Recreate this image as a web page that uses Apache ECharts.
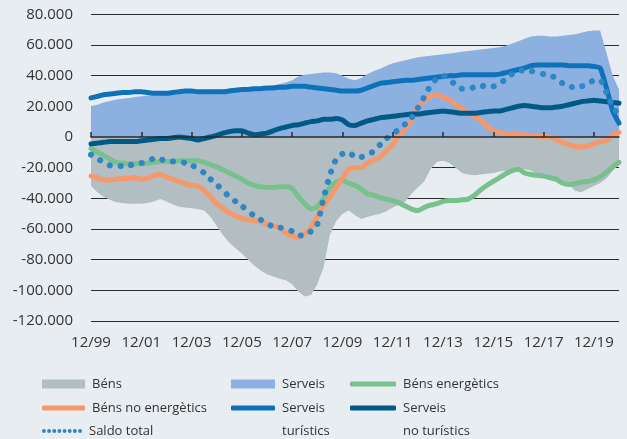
<!DOCTYPE html>
<html>
<head>
<meta charset="utf-8">
<script src="https://cdn.jsdelivr.net/npm/echarts@6/dist/echarts.min.js"></script>
<style>
html,body{margin:0;padding:0;background:#e8edf2;}
#c{width:627px;height:439px;}
</style>
</head>
<body>
<div id="c"></div>
<script>
// Quarterly categories 12/99 ... 12/20
const categories = [];
for (let i = 0; i <= 84; i++) {
  const m = (11 + 3 * i) % 12 + 1;
  const y = 1999 + Math.floor((11 + 3 * i) / 12);
  categories.push(String(m).padStart(2, '0') + '/' + String(y % 100).padStart(2, '0'));
}
const yTicks = [-120, -100, -80, -60, -40, -20, 0, 20, 40, 60, 80];

// values in thousands
const bens = [
  -32,-36,-39,-41,-42.5,-43,-43.5,-43.5,-43.5,-43,
  -42,-40.5,-42,-44,-45.5,-46,-46.5,-47,-48,-52,
  -58,-64,-69,-72.5,-76,-80,-84,-87,-89.5,-91,
  -92.5,-93.5,-96,-101,-104,-103,-96,-85,-64,-55,
  -50,-48,-51,-53.5,-52,-51,-50,-48.5,-46,-44,
  -42,-37,-33,-29,-21,-16.5,-15.5,-17,-20,-23.5,
  -24.5,-25,-24.5,-24,-23.5,-22.5,-22,-21.5,-20,-21,
  -22,-24,-25,-26,-27.5,-29,-31,-35,-36,-34,
  -32,-30,-27,-22,-17
];
const serveis = [
  20,21,22.5,23.5,24.5,25,25.5,26,26.5,27,
  27,27.5,28,28,28.5,28.5,29,29.5,30,30.5,
  31,31,31.5,31.5,32,32,32.5,32.5,33,33.5,
  34.5,35.5,37,39.5,40.5,41,41.5,42,42,41.5,
  40,38,37,38.5,41,43,44.5,46.5,48,49,
  50,51,52,52.5,53,53.5,54,54.5,55,55.5,
  56,56.5,57,57.5,58,58.5,59.5,61,62.5,64,
  65.5,66,66,65.5,65.5,66,66.5,67,68,69,
  69.5,69.5,55,40,31
];
const bensEnergetics = [
  -7.5,-10,-12,-14.5,-16.5,-17,-17.5,-17.5,-17.5,-17,
  -16.5,-16,-16,-16,-15.5,-15.5,-15.5,-15.5,-16.5,-18,
  -19.5,-21.5,-23.5,-25.5,-27.5,-30,-31.5,-32.5,-33,-33,
  -32.5,-32.5,-33.5,-39,-43.5,-47,-45.5,-40,-33,-29.5,
  -28.5,-30,-31.5,-34,-37,-38,-39.5,-40.5,-41.5,-43,
  -45,-47,-48,-46,-44.5,-43.5,-42,-41.5,-41.5,-41,
  -40.5,-38,-34.5,-31.5,-29,-26.5,-24,-22,-21,-23.5,
  -24.5,-25,-25.5,-26.5,-27.5,-30,-31,-30.5,-29.5,-29,
  -28,-26,-23,-19.5,-16.5
];
const bensNoEnergetics = [
  -25.5,-26.5,-28,-28,-27.5,-27,-27,-26.5,-27.5,-27,
  -25,-24.5,-26,-27.5,-29,-30.5,-31.5,-32,-35,-39,
  -43.5,-46.5,-49.5,-51.5,-53,-54,-54.5,-55,-57,-58,
  -59,-62.5,-64.5,-65.5,-63,-59,-52,-45,-39.5,-33,
  -27,-21,-20,-20,-17,-15,-13,-9,-5,1,
  5,10.5,19.5,23.5,26.5,27.5,26,24.5,21,18.5,
  15.5,13.5,11,7,4,3,2,2,1.5,1.5,
  1,0.5,0.5,0,-1.5,-3.5,-5,-6,-6.5,-6,
  -4.5,-3,-2.5,1.5,3
];
const serveisTuristics = [
  25.5,26.5,27.5,28,28.5,29,29,29.5,29.5,29,
  28.5,28.5,28.5,29,29.5,30,30,29.5,29.5,29.5,
  29.5,29.5,30,30.5,31,31,31.5,31.5,32,32,
  32.5,32.5,33,33,33,32.5,32,31.5,31,30.5,
  30,30,30,30.5,32,33.5,35,35.5,36,36.5,
  37,37,37.5,38,38.5,39,39.5,40,40,40.5,
  40.5,40.5,40.5,40.5,40.5,41,42,43,44,45,
  46.5,47,47,47,47,47,46.5,46.5,46.5,46.5,
  46,45,32,17,9
];
const serveisNoTuristics = [
  -4.5,-4,-3.5,-3,-3,-3,-3,-3,-2.5,-2,
  -1.5,-1,-1,-0.5,0,-0.5,-1,-2,-1,0,
  1,2.5,3.5,4,4,2.5,1.5,2,2.5,4,
  5.5,6.5,7.5,8,9,10,10.5,11.5,11.5,12,
  11,8,7.5,9,10.5,11.5,12.5,13,13.5,14,
  14.5,15,15,15.5,16,16.5,17,16.5,16,15.5,
  15.5,15.5,16,16.5,17,17,18,19,20,20.5,
  20,19.5,19,19,19.5,20,21,22,23,23.5,
  24,23.5,23,22.5,22
];
const saldoTotal = [
  -11.5,-14,-16.5,-18.5,-19,-19,-18.5,-18,-17,-16,
  -14,-14.5,-15.5,-16,-16,-17,-18.5,-20.5,-23.5,-27.5,
  -31,-35,-39,-42,-45,-48.5,-51.5,-54,-56.5,-58.5,
  -59,-60,-61.5,-64,-64.5,-61.5,-57,-40,-25,-14.5,
  -11,-10,-13,-13,-11,-9.5,-5,-1,2,5,
  8.5,12.5,19,26,33.5,38,40,37.5,34,31.5,
  31.5,32.5,33.3,33,33,34.5,38,41,43,43.5,
  43,42,41,40,38.5,35,33,32.3,33,34,
  37,37,29,20,14
];

const FONT = '"Open Sans", "Noto Sans", sans-serif';
const C = {
  bens: '#b2bec2', serveis: '#8cb0e0', energ: '#78c08c', noEnerg: '#f5986c',
  tur: '#0d72b9', noTur: '#005a86', saldo: '#2d86c5'
};

function areaSeries(name, data, color) {
  return { name, type: 'line', data, color, showSymbol: false, symbol: 'none',
    lineStyle: { width: 0 }, areaStyle: { color, opacity: 1, origin: 0 }, z: 1, silent: true };
}
function lineSeries(name, data, color, z, extra) {
  return Object.assign({ name, type: 'line', data, color, showSymbol: false, symbol: 'none',
    smooth: 0.2, lineStyle: { width: 5, color, cap: 'round', join: 'round' }, z }, extra || {});
}

const dotsIcon = 'path://' + [0,1,2,3,4,5,6,7].map(i => {
  const x = i * 5.3;
  return 'M' + x + ',2a2,2 0 1,0 4,0a2,2 0 1,0 -4,0';
}).join('');

function legend(name, left, top, w, h, icon, extraText, formatter) {
  const l = { data: [{ name, icon }], left, top, itemWidth: w, itemHeight: h, padding: 0,
    selectedMode: false, itemStyle: { borderWidth: 0 },
    textStyle: Object.assign({ fontSize: 13, color: '#333', fontFamily: FONT, lineHeight: 16, padding: [0,0,0,2] }, extraText || {}) };
  if (formatter) l.formatter = formatter;
  return l;
}

const chart = echarts.init(document.getElementById('c'), null, { renderer: 'canvas' });
chart.setOption({
  backgroundColor: '#e8edf2',
  animation: false,
  grid: { left: 91, right: 8, top: 14.3, bottom: 118, containLabel: false },
  xAxis: [
    { type: 'category', data: categories, boundaryGap: false, position: 'bottom',
      axisLine: { show: false, onZero: false }, axisTick: { show: false },
      axisLabel: { interval: 7, fontSize: 15, color: '#333', fontFamily: FONT, margin: 14 },
      splitLine: { show: false } },
    { type: 'category', data: categories, boundaryGap: false, position: 'bottom', z: 10,
      axisLine: { show: true, onZero: true, lineStyle: { color: '#2a2a2a', width: 1.5 } },
      axisTick: { show: true, inside: true, length: 5, interval: 7, lineStyle: { color: '#2a2a2a', width: 1.5 } },
      axisLabel: { show: false }, splitLine: { show: false } }
  ],
  yAxis: {
    type: 'value', min: yTicks[0], max: yTicks[yTicks.length - 1], interval: 20,
    axisLine: { show: false }, axisTick: { show: false },
    axisLabel: { fontSize: 15, color: '#333', fontFamily: FONT, margin: 18,
      formatter: v => v === 0 ? '0' : v + '.000' },
    splitLine: { show: true, lineStyle: { color: '#2b2b2b', width: 1 } }
  },
  legend: [
    legend('Béns', 42, 376, 43, 9, 'rect'),
    legend('Serveis', 231, 376, 44, 9, 'rect'),
    legend('Béns energètics', 350, 376, 46, 5, 'roundRect'),
    legend('Béns no energètics', 42, 400, 43, 5, 'roundRect'),
    legend('Serveis turístics', 231, 373.5, 44, 5, 'roundRect', { lineHeight: 23 }, '\nServeis\nturístics'),
    legend('Serveis no turístics', 350, 373.5, 46, 5, 'roundRect', { lineHeight: 23 }, '\nServeis\nno turístics'),
    legend('Saldo total', 42, 423, 40, 4, dotsIcon)
  ],
  series: [
    areaSeries('Béns', bens, C.bens),
    areaSeries('Serveis', serveis, C.serveis),
    lineSeries('Béns energètics', bensEnergetics, C.energ, 3),
    lineSeries('Béns no energètics', bensNoEnergetics, C.noEnerg, 4),
    lineSeries('Serveis no turístics', serveisNoTuristics, C.noTur, 5),
    lineSeries('Serveis turístics', serveisTuristics, C.tur, 6),
    lineSeries('Saldo total', saldoTotal, C.saldo, 7,
      { lineStyle: { width: 6, color: C.saldo, type: [0.1, 10.7], cap: 'round' } })
  ]
});
</script>
</body>
</html>
